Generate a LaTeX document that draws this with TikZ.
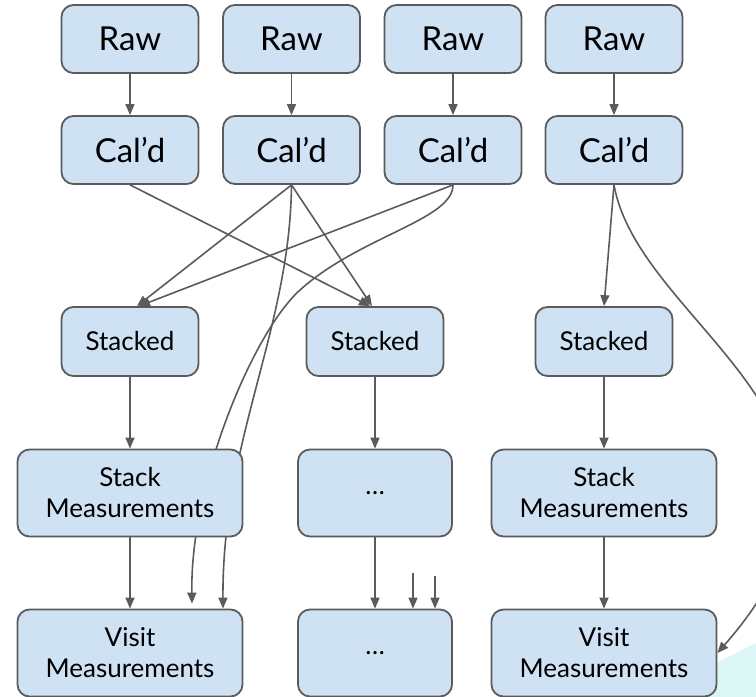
\documentclass[tikz,border=0pt]{standalone}
\usepackage{fontspec}
\setmainfont{Lato}
\usetikzlibrary{arrows.meta,backgrounds}
\definecolor{boxfill}{HTML}{CFE2F3}
\definecolor{boxline}{HTML}{5B5B5B}
\definecolor{cyanbg}{HTML}{DCF5F5}
\tikzset{
  box/.style={draw=boxline, fill=boxfill, line width=1.8pt, rounded corners=12pt, align=center, inner sep=0pt},
  bigbox/.style={box, font=\fontsize{33}{40}\selectfont, minimum width=137pt, minimum height=68pt},
  midbox/.style={box, font=\fontsize{26}{31}\selectfont, minimum width=137pt, minimum height=69pt},
  widebox/.style={box, font=\fontsize{26}{31}\selectfont, minimum width=225pt, minimum height=87pt},
  dotbox/.style={box, font=\fontsize{26}{31}\selectfont, minimum width=154pt, minimum height=87pt},
  conn/.style={draw=boxline, line width=1.6pt, -{Triangle[length=11pt,width=9pt]}},
}
\begin{document}
\begin{tikzpicture}[x=1pt,y=-1pt]
\useasboundingbox (0,0) rectangle (756,697);
\clip (0,0) rectangle (756,697);

% row 1: Raw
\node[bigbox] (r1) at (130,39)   {Raw};
\node[bigbox] (r2) at (291.5,39) {Raw};
\node[bigbox] (r3) at (453,39)   {Raw};
\node[bigbox] (r4) at (614,39)   {Raw};
% row 2: Cal'd
\node[bigbox] (c1) at (130,150)   {Cal’d};
\node[bigbox] (c2) at (291.5,150) {Cal’d};
\node[bigbox] (c3) at (453,150)   {Cal’d};
\node[bigbox] (c4) at (614,150)   {Cal’d};
% row 3: Stacked
\node[midbox] (s1) at (130,341.5) {Stacked};
\node[midbox] (s2) at (375,341.5) {Stacked};
\node[midbox] (s3) at (604,341.5) {Stacked};
% row 4
\node[widebox] (m1) at (130,493) {Stack\\Measurements};
\node[dotbox]  (m2) at (375,493) {…};
\node[widebox] (m3) at (604,493) {Stack\\Measurements};
% row 5
\node[widebox] (v1) at (130,653) {Visit\\Measurements};
\node[dotbox]  (v2) at (375,653) {…};
\node[widebox] (v3) at (604,653) {Visit\\Measurements};

\coordinate (ma) at (300,290);
\coordinate (f1) at (413,573);
\coordinate (f2) at (435,576);

\begin{pgfonlayer}{background}
  \fill[cyanbg] (650,697) -- (756,643) -- (756,697) -- cycle;
  % raw -> cal'd
  \draw[conn] (r1) -- (c1);
  \draw[conn] (r2) -- (c2);
  \draw[conn] (r3) -- (c3);
  \draw[conn] (r4) -- (c4);
  % cal'd -> stacked
  \draw[conn] (c1.south) -- ([xshift=-5pt]s2.north);
  \draw[conn] (c2.south) -- ([xshift=7pt]s1.north);
  \draw[conn] (c2.south) -- ([xshift=-3pt]s2.north);
  \draw[conn] (c3.south) -- ([xshift=9pt]s1.north);
  \draw[conn] (c4.south) -- (s3.north);
  % long curves behind the boxes
  \draw[conn] (c3.south) .. controls +(0,35) and (360,236) .. (ma)
              .. controls (255,330) and (190,480) .. ([xshift=62pt,yshift=5pt]v1.north);
  \draw[conn] (c2.south) .. controls (290,330) and (222,440) .. ([xshift=93pt]v1.north);
  \draw[conn] (c4.south) .. controls (640,330) and (916,427) .. (v3.east);
  % columns
  \draw[conn] (s1) -- (m1);
  \draw[conn] (m1) -- (v1);
  \draw[conn] (s2) -- (m2);
  \draw[conn] (m2) -- (v2);
  \draw[conn] (s3) -- (m3);
  \draw[conn] (m3) -- (v3);
  % free arrows into the lower middle box
  \draw[conn] (f1) -- (f1 |- v2.north);
  \draw[conn] (f2) -- (f2 |- v2.north);
\end{pgfonlayer}
\end{tikzpicture}
\end{document}
